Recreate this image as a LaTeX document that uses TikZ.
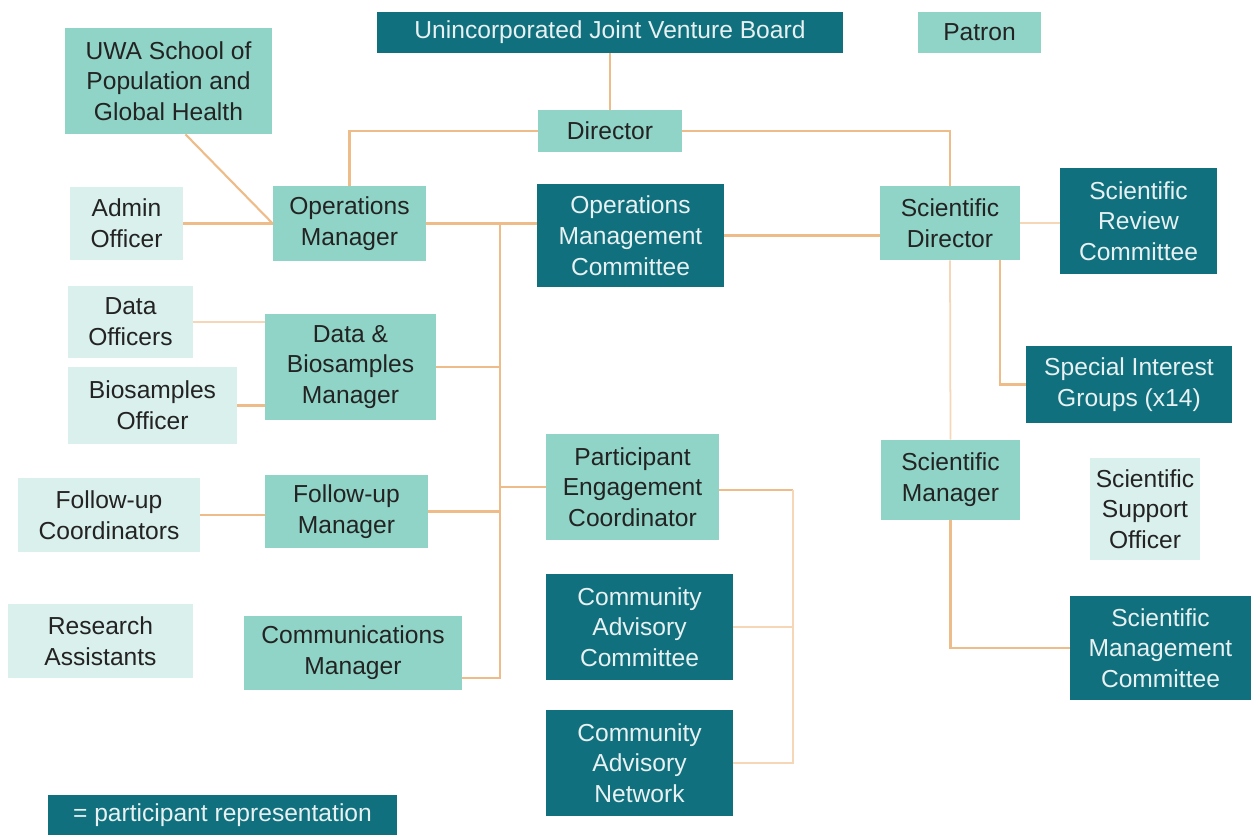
\documentclass[tikz,border=0pt]{standalone}
\usepackage{fontspec}
\setmainfont{Liberation Sans}
\usepackage{tikz}
\definecolor{darkteal}{RGB}{17,112,125}
\definecolor{midteal}{RGB}{143,212,198}
\definecolor{paleteal}{RGB}{218,240,236}
\definecolor{linkcol}{RGB}{238,188,136}
\definecolor{faintcol}{RGB}{245,214,182}
\definecolor{inkcol}{RGB}{35,35,35}
\tikzset{%
  boxsize/.style 2 args={minimum width=#1*0.02cm, minimum height=#2*0.02cm},
  basebox/.style={inner sep=0pt, align=center, font=\fontsize{14}{17.5}\selectfont},
  repbox/.style={basebox, fill=darkteal, text=white!90!darkteal},
  staffbox/.style={basebox, fill=midteal, text=inkcol},
  supportbox/.style={basebox, fill=paleteal, text=inkcol},
  link/.style={draw=linkcol, line width=1.2pt},
  faintlink/.style={draw=faintcol, line width=1pt}
}
\begin{document}
\begin{tikzpicture}[x=0.02cm, y=-0.02cm]
\useasboundingbox (0,0) rectangle (1251,835);

% top row
\node [repbox, boxsize={466}{41}] (board) at (610,32.5) {Unincorporated Joint Venture Board};
\node [staffbox, boxsize={123}{41}] (patron) at (979.5,32.5) {Patron};
\node [staffbox, boxsize={207}{106}] (uwa) at (168.5,81) {UWA School of\\Population and\\Global Health};
\node [staffbox, boxsize={144}{42}] (director) at (610,131) {Director};

% operations side
\node [supportbox, boxsize={113}{73}] (admin) at (126.5,223.5) {Admin\\Officer};
\node [staffbox, boxsize={153}{75}] (opsman) at (349.5,223.5) {Operations\\Manager};
\node [repbox, boxsize={187}{103}] (omc) at (630.5,235.5) {Operations\\Management\\Committee};
\node [supportbox, boxsize={125}{72}] (dataoff) at (130.5,322) {Data\\Officers};
\node [staffbox, boxsize={171}{106}] (dbman) at (350.5,367) {Data \&\\Biosamples\\Manager};
\node [supportbox, boxsize={169}{77}] (biooff) at (152.5,405.5) {Biosamples\\Officer};
\node [supportbox, boxsize={182}{74}] (fucoord) at (109,515) {Follow-up\\Coordinators};
\node [staffbox, boxsize={163}{73}] (fuman) at (346.5,511.5) {Follow-up\\Manager};
\node [supportbox, boxsize={185}{74}] (ra) at (100.5,641) {Research\\Assistants};
\node [staffbox, boxsize={218}{74}] (comman) at (353,653) {Communications\\Manager};

% participant engagement
\node [staffbox, boxsize={173}{106}] (pec) at (632.5,487) {Participant\\Engagement\\Coordinator};
\node [repbox, boxsize={187}{106}] (cac) at (639.5,627) {Community\\Advisory\\Committee};
\node [repbox, boxsize={187}{106}] (can) at (639.5,763) {Community\\Advisory\\Network};

% scientific side
\node [staffbox, boxsize={140}{74}] (scidir) at (950,223) {Scientific\\Director};
\node [repbox, boxsize={157}{106}] (src) at (1138.5,221) {Scientific\\Review\\Committee};
\node [repbox, boxsize={206}{77}] (sig) at (1129,384.5) {Special Interest\\Groups (x14)};
\node [staffbox, boxsize={139}{80}] (sciman) at (950.5,480) {Scientific\\Manager};
\node [supportbox, boxsize={110}{102}] (sso) at (1145,509) {Scientific\\Support\\Officer};
\node [repbox, boxsize={181}{104}] (smc) at (1160.5,648) {Scientific\\Management\\Committee};

% key
\node [repbox, boxsize={349}{40}] (key) at (222.5,815) {= participant representation};

\coordinate (trunktop) at (500,223.5);
\coordinate (trunkend) at (500,678);
\coordinate (pecbus) at (793,490);
\coordinate (sigdrop) at (1000,260);

% lines
\draw [link] (board.south) -- (director.north);
\draw [link] (director.west) -| (opsman.north);
\draw [link] (director.east) -| (scidir.north);
\draw [link] ([xshift=17*0.02cm]uwa.south) -- (opsman.west);
\draw [link] (admin.east) -- (opsman.west);
\draw [link] (opsman.east) -- (omc.west |- opsman.east);
\draw [link] (trunktop) -- (trunkend) -- (comman.east |- trunkend);
\draw [link] (dbman.east) -- (dbman.east -| trunktop);
\draw [link] (fuman.east) -- (fuman.east -| trunktop);
\draw [link] (pec.west -| trunktop) -- (pec.west);
\draw [faintlink] (dataoff.east) -- (dbman.west |- dataoff.east);
\draw [link] (biooff.east) -- (dbman.west |- biooff.east);
\draw [link] (fucoord.east) -- (fuman.west |- fucoord.east);
\draw [link] (omc.east) -- (scidir.west |- omc.east);
\draw [faintlink] (scidir.east) -- (src.west |- scidir.east);
\draw [link] (sigdrop) |- (sig.west);
\draw [faintlink] (scidir.south) -- (sciman.north);
\draw [link] (sciman.south) |- (smc.west);
\draw [link] (pec.east |- pecbus) -- (pecbus);
\draw [faintlink] (pecbus) -- (pecbus |- can.east) -- (can.east);
\draw [faintlink] (cac.east) -- (cac.east -| pecbus);
\end{tikzpicture}
\end{document}
